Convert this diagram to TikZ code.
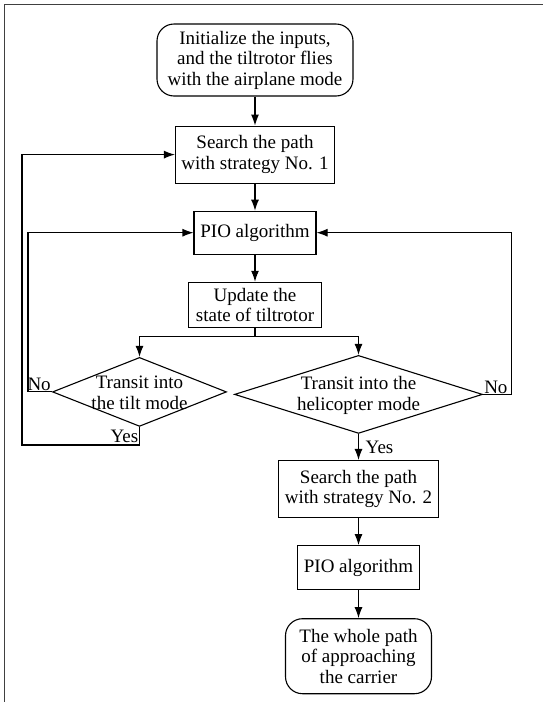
\documentclass[tikz,border=0pt]{standalone}
\usepackage{fontspec}
\setmainfont{Liberation Serif}
\usetikzlibrary{arrows.meta,positioning,shapes.geometric}

\begin{document}
\begin{tikzpicture}[
  font=\fontsize{19pt}{20.5pt}\selectfont,
  terminal/.style={draw, line width=1.1pt, rounded corners=17pt,
    align=center, inner sep=0pt},
  process/.style={draw, line width=1.1pt, align=center, inner sep=0pt},
  decision/.style={draw, line width=1.1pt, diamond, inner sep=0pt},
  flowlbl/.style={inner sep=1pt},
  flow/.style={-{Latex[length=11pt,width=8pt]}, line width=1.1pt, draw=black},
]
  \useasboundingbox (0,0) rectangle (543pt,-702pt);
  \draw[line width=1.8pt, draw=black!75] (4.5pt,-702pt) -- (4.5pt,-4.5pt) -- (543pt,-4.5pt);

  \node[terminal, minimum width=196pt, minimum height=72pt] (init) at (255pt,-60pt)
    {Initialize the inputs,\\and the tiltrotor flies\\with the airplane mode};
  \node[process, minimum width=159pt, minimum height=57pt, below=29pt of init] (search1)
    {Search the path\\with strategy No. 1};
  \node[process, minimum width=122pt, minimum height=43pt, below=27pt of search1] (pio1)
    {PIO algorithm};
  \node[process, minimum width=133pt, minimum height=45pt, below=27pt of pio1] (update)
    {Update the\\state of tiltrotor};
  \node[decision, minimum width=174pt, minimum height=69pt,
    below=29pt of update, xshift=-115.5pt] (tilt) {};
  \node[align=center] (tilttext) at ([yshift=-1pt]tilt.center) {Transit into\\the tilt mode};
  \node[decision, minimum width=248pt, minimum height=78pt,
    below=27pt of update, xshift=103.5pt] (heli) {};
  \node[align=center] (helitext) at ([yshift=-1pt]heli.center) {Transit into the\\helicopter mode};
  \node[process, minimum width=160pt, minimum height=57pt, below=26pt of heli] (search2)
    {Search the path\\with strategy No. 2};
  \node[process, minimum width=122pt, minimum height=44pt, below=27pt of search2] (pio2)
    {PIO algorithm};
  \node[terminal, minimum width=146pt, minimum height=75pt, below=28pt of pio2] (final)
    {The whole path\\of approaching\\the carrier};

  \draw[flow] (init) -- (search1);
  \draw[flow] (search1) -- (pio1);
  \draw[flow] (pio1) -- (update);
  \draw[flow] (update.south) -- ++(0,-9pt) -| (tilt.north);
  \draw[flow] (update.south) -- ++(0,-9pt) -| (heli.north);
  \draw[flow] (tilt.west) -- ++(-24pt,0) |- (pio1.west);
  \draw[flow] (tilt.south) -- ++(0,-18pt) -| ([xshift=-30pt]tilt.west |- search1.west) -- (search1.west);
  \draw[flow] (heli.east) -- ++(28pt,0) |- (pio1.east);
  \draw[flow] (heli) -- (search2);
  \draw[flow] (search2) -- (pio2);
  \draw[flow] (pio2) -- (final);

  \node[flowlbl, anchor=south east] (tiltno) at (tilt.west) {No};
  \node[flowlbl, anchor=east] (tiltyes) at ([yshift=-9pt]tilt.south) {Yes};
  \node[flowlbl, anchor=south west] (helino) at (heli.east) {No};
  \node[flowlbl, anchor=west] (heliyes) at ([xshift=6pt,yshift=-13pt]heli.south) {Yes};
\end{tikzpicture}
\end{document}
